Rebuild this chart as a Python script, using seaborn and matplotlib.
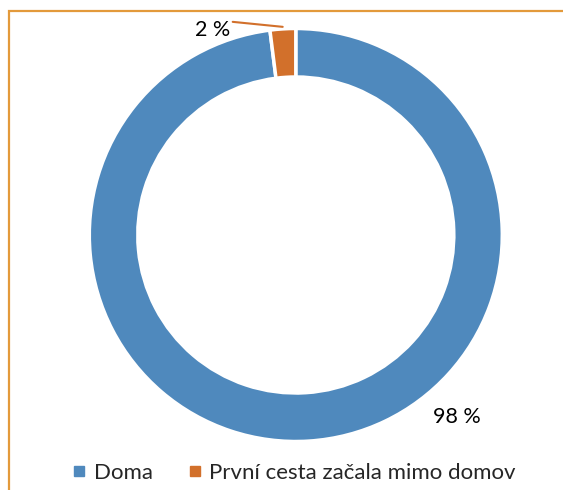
import numpy as np
import matplotlib.pyplot as plt
import seaborn as sns
from matplotlib.lines import Line2D
from matplotlib.patches import Rectangle

sns.set_theme(style="white")
plt.rcParams["font.family"] = ["Lato", "DejaVu Sans"]

categories = ["Doma", "První cesta začala mimo domov"]
shares = [98, 2]
value_labels = ["98 %", "2 %"]
colors = ["#4F89BD", "#D2702B"]

W, H = 563, 490
cx, cy = 295.8, H - 235
r_out, r_in = 206.5, 158

fig = plt.figure(figsize=(W / 100, H / 100), dpi=100)
ax = fig.add_axes([0, 0, 1, 1])

wedges, _ = ax.pie(shares, colors=colors, startangle=90, counterclock=False,
                   radius=r_out, center=(cx, cy),
                   wedgeprops=dict(width=r_out - r_in, edgecolor="white", linewidth=2.5))
ax.set_aspect("auto")
ax.set_xlim(0, W)
ax.set_ylim(0, H)
ax.set_axis_off()

# small slice: leader line from the outer edge up-left to the label
w = wedges[1]
mid = np.deg2rad((w.theta1 + w.theta2) / 2)
tip = (cx + r_out * 1.01 * np.cos(mid), cy + r_out * 1.01 * np.sin(mid))
ax.annotate("", xy=tip, xytext=(tip[0] - 50, tip[1] + 5),
            arrowprops=dict(arrowstyle="-", color=colors[1], lw=1.5, shrinkA=0, shrinkB=0))
ax.text(tip[0] - 70, tip[1] - 9, value_labels[1], ha="center", va="baseline",
        fontsize=15.5, color="black")

# big slice label, placed outside the ring at the lower right
ax.text(457, H - 423.3, value_labels[0], ha="center", va="baseline",
        fontsize=15.5, color="black")

handles = [Line2D([], [], marker="s", linestyle="", markersize=6.5,
                  markerfacecolor=c, markeredgecolor=c) for c in colors]
ax.legend(handles, categories, loc="center", bbox_to_anchor=(293 / W, 1 - 473 / H),
          ncol=2, frameon=False, fontsize=16, handletextpad=0.25, columnspacing=1.5,
          handlelength=0.8, borderaxespad=0)

fig.patches.append(Rectangle((9 / W, -0.1), 1.2, 1.1 - 11 / H, transform=fig.transFigure,
                             fill=False, edgecolor="#E39A3B", linewidth=1.6))

fig.savefig("out.png", dpi=100)
